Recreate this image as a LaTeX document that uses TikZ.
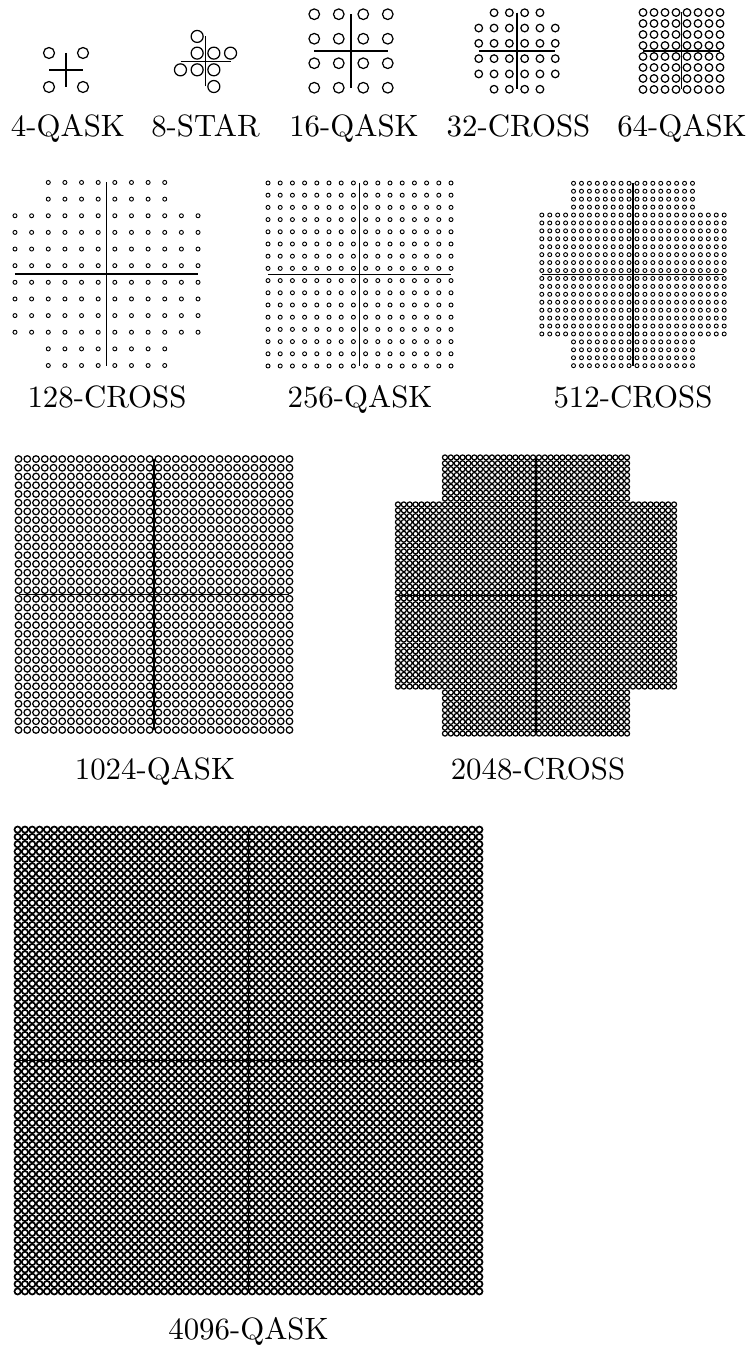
\documentclass[tikz,border=0pt]{standalone}
\usepackage{tikz}

% #1 points per side, #2 size of the cut corners, #3 pitch, #4 radius
\newcommand{\cgrid}[4]{%
  \pgfmathsetmacro{\halfn}{(#1+1)/2}
  \foreach \j in {1,...,#1}{
    \pgfmathtruncatemacro{\rowcut}{(\j<#2+0.5)||(\j>#1-#2+0.5)}
    \ifnum\rowcut=1 \pgfmathtruncatemacro{\ia}{#2+1}\pgfmathtruncatemacro{\ib}{#1-#2}%
    \else \def\ia{1}\def\ib{#1}\fi
    \draw[pt] \foreach \i in {\ia,...,\ib}{({(\i-\halfn)*#3},{(\j-\halfn)*#3}) circle[radius=#4]};
  }
  \pgfmathsetmacro{\axext}{(#1-1)/2*#3}
  \draw[ax] (-\axext,0) -- (\axext,0);
  \draw[ax] (0,-\axext) -- (0,\axext);
}

\begin{document}
\begin{tikzpicture}[x=0.3241pt,y=-0.3241pt,
   pt/.style={draw,line width=0.4pt},
   ax/.style={draw,line width=0.4pt},
   lab/.style={anchor=base,inner sep=0pt}]
  \useasboundingbox (0,0) rectangle (753,1346);

  % centres
  \coordinate (c4) at (66,70);
  \coordinate (c8) at (205.5,61.5);
  \coordinate (c16) at (351,51);
  \coordinate (c32) at (517,51);
  \coordinate (c64) at (681.5,51);
  \coordinate (c128) at (106.5,274);
  \coordinate (c256) at (359.5,274.5);
  \coordinate (c512) at (633,274.5);
  \coordinate (c1024) at (154,594.5);
  \coordinate (c2048) at (536,595.5);
  \coordinate (c4096) at (248.5,1060.5);

  % row 1
  \begin{scope}[shift={(c4)}]
    \cgrid{2}{0}{34}{5.5}
  \end{scope}
  \begin{scope}[shift={(c8)},y=0.3241pt]
    \foreach \u/\v in {-0.5/1.5,-0.5/0.5,0.5/0.5,1.5/0.5,-1.5/-0.5,-0.5/-0.5,0.5/-0.5,0.5/-1.5}
      \draw[pt] (\u*16.7,\v*16.7) circle[radius=6];
    \draw[ax] (-25,0) -- (25,0);
    \draw[ax] (0,-25) -- (0,25);
  \end{scope}
  \begin{scope}[shift={(c16)}]
    \cgrid{4}{0}{24.5}{5.3}
  \end{scope}
  \begin{scope}[shift={(c32)}]
    \cgrid{6}{1}{15.3}{3.8}
  \end{scope}
  \begin{scope}[shift={(c64)}]
    \cgrid{8}{0}{11}{3.8}
  \end{scope}
  \node[lab] (lab4) at (68,137) {4-QASK};
  \node[lab] (lab8) at (205.5,137) {8-STAR};
  \node[lab] (lab16) at (354,137) {16-QASK};
  \node[lab] (lab32) at (518.5,137) {32-CROSS};
  \node[lab] (lab64) at (682,137) {64-QASK};

  % row 2
  \begin{scope}[shift={(c128)},pt/.append style={line width=0.3pt}]
    \cgrid{12}{2}{16.64}{2}
  \end{scope}
  \begin{scope}[shift={(c256)},pt/.append style={line width=0.3pt}]
    \cgrid{16}{0}{12.2}{2}
  \end{scope}
  \begin{scope}[shift={(c512)},pt/.append style={line width=0.3pt}]
    \cgrid{24}{4}{7.93}{2}
  \end{scope}
  \node[lab] (lab128) at (107,407.5) {128-CROSS};
  \node[lab] (lab256) at (360,407.5) {256-QASK};
  \node[lab] (lab512) at (633,407.5) {512-CROSS};

  % row 3
  \begin{scope}[shift={(c1024)}]
    \cgrid{32}{0}{8.74}{3.3}
  \end{scope}
  \begin{scope}[shift={(c2048)}]
    \cgrid{48}{8}{5.875}{2.5}
  \end{scope}
  \node[lab] (lab1024) at (155,779) {1024-QASK};
  \node[lab] (lab2048) at (538,779) {2048-CROSS};

  % row 4
  \begin{scope}[shift={(c4096)},pt/.append style={line width=0.55pt}]
    \cgrid{64}{0}{7.33}{3.1}
  \end{scope}
  \node[lab] (lab4096) at (248.5,1339) {4096-QASK};
\end{tikzpicture}
\end{document}
